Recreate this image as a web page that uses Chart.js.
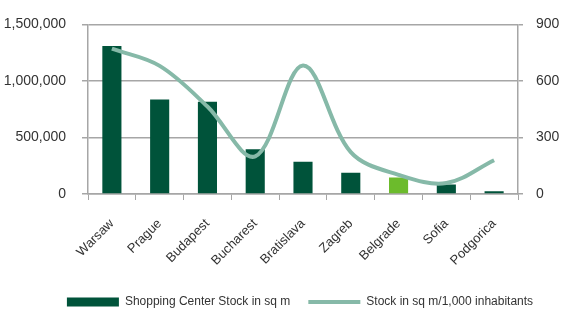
<!DOCTYPE html>
<html>
<head>
<meta charset="utf-8">
<script src="https://cdn.jsdelivr.net/npm/chart.js@4.4.0/dist/chart.umd.min.js"></script>
<style>
  html, body { margin: 0; padding: 0; background: #fff; }
  #wrap { width: 566px; height: 311px; }
</style>
</head>
<body>
<div id="wrap"><canvas id="mainChart" width="566" height="311"></canvas></div>
<script>
const cities = ['Warsaw', 'Prague', 'Budapest', 'Bucharest', 'Bratislava', 'Zagreb', 'Belgrade', 'Sofia', 'Podgorica'];
const stockSqm = [1310000, 835000, 815000, 395000, 285000, 187000, 147000, 83000, 25000];
const stockPer1000 = [771, 680, 464, 200, 682, 222, 102, 58, 179];
const leftTicks = [0, 500000, 1000000, 1500000];
const rightTicks = [0, 300, 600, 900];

const darkGreen = '#00533a';
const lightGreen = '#6cbb2c';
const lineGreen = '#86b9a8';
const gridGray = '#a6a6a6';

Chart.defaults.font.family = "'Liberation Sans', Arial, sans-serif";
Chart.defaults.font.size = 13;
Chart.defaults.color = '#333333';

const barColors = cities.map(c => c === 'Belgrade' ? lightGreen : darkGreen);

// nudge the legend right, it sits off-centre in the original
const legendShift = {
    id: 'legendShift',
    afterLayout(chart) {
        chart.legend.left += 17;
        chart.legend.right += 17;
    }
};

new Chart(document.getElementById('mainChart'), {
    type: 'bar',
    data: {
        labels: cities,
        datasets: [{
            label: 'Shopping Center Stock in sq m',
            data: stockSqm,
            backgroundColor: barColors,
            borderWidth: 0,
            barPercentage: 0.5,
            categoryPercentage: 0.8,
            yAxisID: 'y',
            order: 1
        }, {
            type: 'line',
            label: 'Stock in sq m/1,000 inhabitants',
            data: stockPer1000,
            borderColor: lineGreen,
            backgroundColor: lineGreen,
            borderWidth: 4,
            tension: 0.35,
            pointRadius: 0,
            fill: false,
            yAxisID: 'y1',
            order: 0
        }]
    },
    plugins: [legendShift],
    options: {
        responsive: false,
        animation: false,
        layout: { padding: { top: 1, right: 0, left: 0, bottom: -7 } },
        plugins: {
            tooltip: { enabled: false },
            legend: {
                position: 'bottom',
                labels: {
                    usePointStyle: true,
                    pointStyleWidth: 52,
                    boxWidth: 52,
                    boxHeight: 9,
                    padding: 18,
                    color: '#333333',
                    font: { size: 12 },
                    generateLabels: function (chart) {
                        return chart.data.datasets.map((ds, i) => ({
                            text: ds.label,
                            datasetIndex: i,
                            fillStyle: i === 0 ? darkGreen : lineGreen,
                            strokeStyle: i === 0 ? darkGreen : lineGreen,
                            lineWidth: i === 0 ? 0 : 4,
                            pointStyle: i === 0 ? 'rect' : 'line',
                            hidden: false,
                            fontColor: '#333333'
                        }));
                    }
                }
            }
        },
        scales: {
            x: {
                afterFit: s => { s.height = 84; },
                grid: { display: true, drawOnChartArea: false, color: gridGray, tickLength: 6, offset: true },
                border: { color: gridGray, width: 1.5 },
                ticks: { maxRotation: 45, minRotation: 45, padding: 16, font: { size: 13 } }
            },
            y: {
                position: 'left',
                min: 0,
                max: 1500000,
                afterBuildTicks: s => { s.ticks = leftTicks.map(v => ({ value: v })); },
                afterFit: s => { s.width = 88; },
                grid: { color: gridGray, lineWidth: 1.5, tickLength: 6 },
                border: { color: gridGray, width: 1.5 },
                ticks: {
                    padding: 16,
                    font: { size: 14 },
                    callback: v => v.toLocaleString('en-US')
                }
            },
            y1: {
                position: 'right',
                min: 0,
                max: 900,
                afterBuildTicks: s => { s.ticks = rightTicks.map(v => ({ value: v })); },
                afterFit: s => { s.width = 48; },
                grid: { drawOnChartArea: false, color: gridGray, lineWidth: 1.5, tickLength: 5 },
                border: { color: gridGray, width: 1.5 },
                ticks: { padding: 13, font: { size: 14 } }
            }
        }
    }
});
</script>
</body>
</html>
